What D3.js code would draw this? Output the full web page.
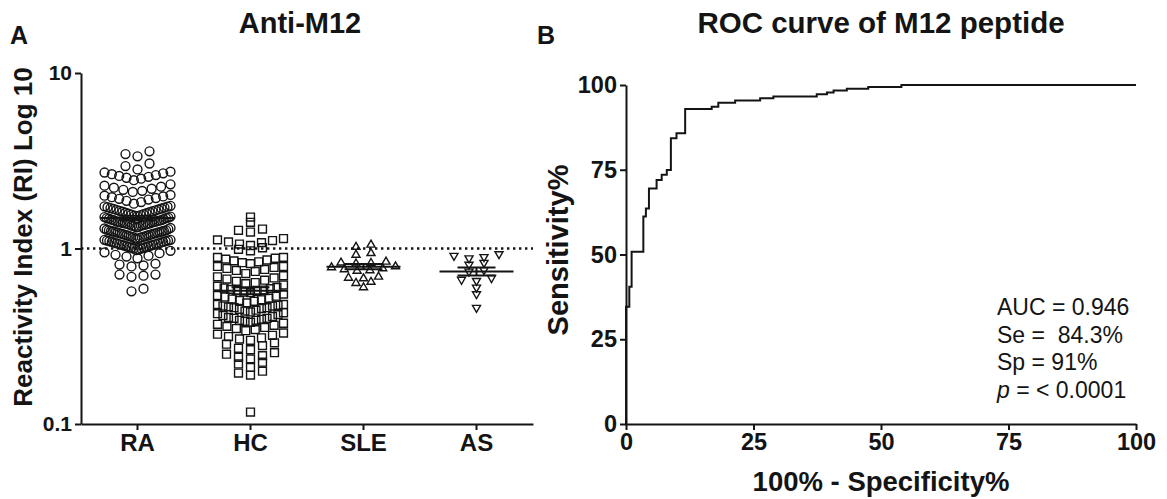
<!DOCTYPE html>
<html>
<head>
<meta charset="utf-8">
<script src="https://cdn.jsdelivr.net/npm/d3@7"></script>
<style>
  body { margin: 0; background: #fff; }
  svg { display: block; font-family: "Liberation Sans", Arial, Helvetica, sans-serif; }
  .stat { white-space: pre; }
</style>
</head>
<body>
<svg id="chart" width="1167" height="499"></svg>
<script>
// ---------- Panel A: anti-M12 reactivity index per group ----------
const groups = ["RA", "HC", "SLE", "AS"];

const raValues = [
  0.57, 0.59,
  0.69, 0.70, 0.71, 0.71,
  0.79, 0.80, 0.81, 0.82,
  0.88, 0.90, 0.91, 0.92, 0.94, 0.95,
  0.97, 0.98, 0.99, 1.00, 1.00, 1.01, 1.01, 1.02, 1.02, 1.03, 1.03, 1.04, 1.04, 1.05, 1.05,
  1.06, 1.06, 1.07, 1.07, 1.08, 1.08, 1.09, 1.09, 1.10, 1.10, 1.11, 1.11, 1.12, 1.12,
  1.13, 1.14, 1.15, 1.16, 1.16, 1.17, 1.17, 1.18, 1.18, 1.19, 1.19, 1.20, 1.20, 1.21, 1.21,
  1.22, 1.22, 1.23, 1.23, 1.24, 1.24, 1.25, 1.25, 1.26, 1.26, 1.27, 1.27, 1.28, 1.29, 1.30,
  1.31, 1.32, 1.33, 1.34, 1.35, 1.35, 1.36, 1.37, 1.37, 1.38, 1.38, 1.39, 1.39, 1.40, 1.41,
  1.41, 1.42, 1.42, 1.43, 1.43, 1.44, 1.45, 1.45, 1.46, 1.47, 1.48, 1.49, 1.49, 1.50, 1.51,
  1.52, 1.53, 1.54, 1.55, 1.56, 1.57, 1.58, 1.59, 1.60, 1.61, 1.62, 1.63, 1.64, 1.65,
  1.66, 1.67, 1.68, 1.69, 1.70, 1.71, 1.72, 1.73, 1.74, 1.75,
  1.80, 1.84, 1.87, 1.90, 1.92, 1.94, 1.96, 1.98, 2.00, 2.02,
  2.10, 2.13, 2.16, 2.19, 2.22, 2.25, 2.28, 2.32,
  2.45, 2.50, 2.53, 2.56, 2.59, 2.62, 2.65, 2.68, 2.71, 2.74,
  2.82, 2.95, 3.05,
  3.35, 3.45, 3.58
];

const hcValues = [
  1.51, 1.41,
  1.24, 1.27, 1.29,
  1.04, 1.06, 1.08, 1.09, 1.11, 1.12, 1.14,
  0.97, 0.99, 1.01,
  0.82, 0.83, 0.84, 0.85, 0.86, 0.87, 0.88, 0.89, 0.89,
  0.72, 0.74, 0.75, 0.76, 0.77, 0.78, 0.79, 0.79,
  0.63, 0.64, 0.65, 0.66, 0.67, 0.68, 0.69, 0.70,
  0.55, 0.56, 0.565, 0.57, 0.575, 0.58, 0.585, 0.59, 0.595, 0.60, 0.61, 0.62,
  0.49, 0.50, 0.505, 0.51, 0.515, 0.52, 0.53, 0.535, 0.54,
  0.43, 0.435, 0.44, 0.445, 0.45, 0.455, 0.46, 0.46, 0.465, 0.47, 0.47, 0.475, 0.48, 0.48,
  0.38, 0.385, 0.39, 0.39, 0.395, 0.40, 0.40, 0.405, 0.41, 0.415, 0.42, 0.425,
  0.34, 0.345, 0.35, 0.355, 0.36, 0.365, 0.37, 0.375,
  0.30, 0.305, 0.31, 0.315, 0.32, 0.325, 0.33,
  0.265, 0.27, 0.28, 0.285, 0.29,
  0.235, 0.24, 0.245, 0.25, 0.255,
  0.21, 0.22, 0.225,
  0.19, 0.195, 0.20,
  0.117
];

const sleValues = [
  1.02, 1.05,
  0.92, 0.94,
  0.82, 0.825, 0.83, 0.84,
  0.745, 0.75, 0.76, 0.77, 0.78, 0.79,
  0.675, 0.68, 0.69,
  0.635, 0.645,
  0.60
];

const asValues = [
  0.88, 0.895, 0.91, 0.93,
  0.81, 0.83,
  0.74, 0.755,
  0.655, 0.665, 0.68,
  0.60,
  0.55,
  0.46
];

const logTicks = [0.1, 1, 10];
const cutoffRI = 1;

// ---------- Panel B: ROC curve of the M12 peptide ----------
const rocFpr  = [0, 0, 0.65, 1.1, 3.4, 3.9, 4.5, 6.0, 7.0, 8.0, 8.8, 9.9, 11.6, 16.8, 18.1, 21.4, 26.3, 28.9, 37.4, 39.4, 40.7, 43.3, 47.5, 54.0, 100];
const rocSens = [0, 34.6, 40.5, 50.8, 61.2, 63.6, 69.5, 72.0, 73.5, 74.9, 84.3, 85.8, 92.9, 93.6, 94.8, 95.4, 96.1, 96.6, 97.3, 97.8, 98.4, 98.9, 99.4, 100, 100];
const rocTicks = [0, 25, 50, 75, 100];
const rocStats = ["AUC = 0.946", "Se =  84.3%", "Sp = 91%"];
const rocP = "= < 0.0001";

// ---------- drawing ----------
const ink = "#141414";
const svg = d3.select("#chart");

function styleAxis(g, fontSize) {
  g.select(".domain").attr("stroke", ink).attr("stroke-width", 2);
  g.selectAll(".tick line").attr("stroke", ink).attr("stroke-width", 2);
  g.selectAll(".tick text")
    .attr("fill", ink)
    .attr("font-size", fontSize)
    .attr("font-weight", "bold")
    .attr("font-family", "'Liberation Sans', Arial, sans-serif");
}

// Panel A scales
const A = { left: 81, right: 533, top: 73, bottom: 424 };
const xA = d3.scaleBand().domain(groups).range([A.left, A.right]);
const yA = d3.scaleLog().domain([0.1, 10]).range([A.bottom, A.top]);

// cut-off line
svg.append("line")
  .attr("x1", A.left).attr("x2", A.right)
  .attr("y1", yA(cutoffRI)).attr("y2", yA(cutoffRI))
  .attr("stroke", ink).attr("stroke-width", 2.4)
  .attr("stroke-dasharray", "2.4,3.6");

// column scatter layout: values binned into rows, rows spread from the centre out
function columnScatter(values, cx, binH, anchor, maxW, maxGap) {
  const pts = values.map(v => ({ v, py: yA(v) }));
  const rows = d3.group(pts, p => Math.round((p.py - anchor) / binH));
  const out = [];
  for (const row of rows.values()) {
    row.sort((a, b) => a.v - b.v);
    const n = row.length;
    const gap = n > 1 ? Math.min(maxGap, maxW / (n - 1)) : 0;
    const slots = d3.range(n)
      .map(i => (i - (n - 1) / 2) * gap)
      .sort((a, b) => Math.abs(a) - Math.abs(b) || a - b);
    row.forEach((p, i) => out.push({ v: p.v, px: cx + slots[i], py: p.py }));
  }
  return out;
}

const groupSpecs = [
  { name: "RA",  values: raValues,  symbol: d3.symbolCircle,   size: 62, rot: 0,   binH: 11.5, anchor: 245, maxW: 66, maxGap: 12 },
  { name: "HC",  values: hcValues,  symbol: d3.symbolSquare,   size: 62, rot: 0,   binH: 9.5,  anchor: 289, maxW: 66, maxGap: 12 },
  { name: "SLE", values: sleValues, symbol: d3.symbolTriangle, size: 28, rot: 0,   binH: 7.5,  anchor: 245, maxW: 64, maxGap: 15 },
  { name: "AS",  values: asValues,  symbol: d3.symbolTriangle, size: 28, rot: 180, binH: 7.5,  anchor: 255, maxW: 58, maxGap: 15 }
];

groupSpecs.forEach(spec => {
  const cx = xA(spec.name) + xA.bandwidth() / 2;
  const pts = columnScatter(spec.values, cx, spec.binH, spec.anchor, spec.maxW, spec.maxGap);
  const sym = d3.symbol().type(spec.symbol).size(spec.size);
  svg.append("g").selectAll("path").data(pts).join("path")
    .attr("d", sym)
    .attr("transform", d => `translate(${d.px},${d.py}) rotate(${spec.rot})`)
    .attr("fill", "none")
    .attr("stroke", ink)
    .attr("stroke-width", 1.4);

  // mean with SEM
  const m = d3.mean(spec.values);
  const sem = d3.deviation(spec.values) / Math.sqrt(spec.values.length);
  const g = svg.append("g").attr("stroke", ink).attr("stroke-width", 2);
  g.append("line").attr("x1", cx - 37).attr("x2", cx + 37).attr("y1", yA(m)).attr("y2", yA(m));
  [m - sem, m + sem].forEach(v => {
    g.append("line").attr("x1", cx - 19).attr("x2", cx + 19).attr("y1", yA(v)).attr("y2", yA(v));
  });
  g.append("line").attr("x1", cx).attr("x2", cx).attr("y1", yA(m - sem)).attr("y2", yA(m + sem));
});

// Panel A axes
svg.append("g")
  .attr("transform", `translate(${A.left},0)`)
  .call(d3.axisLeft(yA).tickValues(logTicks).tickFormat(d3.format("~g")).tickSize(6).tickSizeOuter(0).tickPadding(3))
  .call(g => styleAxis(g, 21));

svg.append("g")
  .attr("transform", `translate(0,${A.bottom})`)
  .call(d3.axisBottom(xA).tickSize(6).tickSizeOuter(0).tickPadding(4))
  .call(g => styleAxis(g, 24));

// Panel A texts
svg.append("text").attr("x", 10).attr("y", 44).text("A")
  .attr("font-size", 25).attr("font-weight", "bold").attr("fill", ink);
svg.append("text").attr("x", 300).attr("y", 33).text("Anti-M12")
  .attr("text-anchor", "middle").attr("font-size", 29).attr("font-weight", "bold").attr("fill", ink);
svg.append("text")
  .attr("transform", `translate(32,237) rotate(-90)`)
  .attr("text-anchor", "middle").attr("font-size", 26).attr("font-weight", "bold").attr("fill", ink)
  .text("Reactivity Index (RI) Log 10");

// Panel B scales
const B = { left: 626, right: 1136, top: 85, bottom: 424 };
const xB = d3.scaleLinear().domain([0, 100]).range([B.left, B.right]);
const yB = d3.scaleLinear().domain([0, 100]).range([B.bottom, B.top]);

const rocPts = rocFpr.map((f, i) => [f, rocSens[i]]);
svg.append("path")
  .datum(rocPts)
  .attr("d", d3.line().x(d => xB(d[0])).y(d => yB(d[1])).curve(d3.curveStepAfter))
  .attr("fill", "none").attr("stroke", ink).attr("stroke-width", 2);

svg.append("g")
  .attr("transform", `translate(${B.left},0)`)
  .call(d3.axisLeft(yB).tickValues(rocTicks).tickSize(6).tickSizeOuter(0).tickPadding(3))
  .call(g => styleAxis(g, 23.5));

svg.append("g")
  .attr("transform", `translate(0,${B.bottom})`)
  .call(d3.axisBottom(xB).tickValues(rocTicks).tickSize(6).tickSizeOuter(0).tickPadding(3))
  .call(g => styleAxis(g, 23.5));

// Panel B texts
svg.append("text").attr("x", 537).attr("y", 44).text("B")
  .attr("font-size", 25).attr("font-weight", "bold").attr("fill", ink);
svg.append("text").attr("x", (B.left + B.right) / 2).attr("y", 33).text("ROC curve of M12 peptide")
  .attr("text-anchor", "middle").attr("font-size", 29.5).attr("font-weight", "bold").attr("fill", ink);
svg.append("text").attr("x", (B.left + B.right) / 2).attr("y", 491).text("100% - Specificity%")
  .attr("text-anchor", "middle").attr("font-size", 27.5).attr("font-weight", "bold").attr("fill", ink);
svg.append("text")
  .attr("transform", `translate(568,250) rotate(-90)`)
  .attr("text-anchor", "middle").attr("font-size", 29).attr("font-weight", "bold").attr("fill", ink)
  .text("Sensitivity%");

const statG = svg.append("g").attr("font-size", 23).attr("fill", ink);
rocStats.forEach((s, i) => {
  statG.append("text").attr("class", "stat").attr("x", 997).attr("y", 315 + i * 27.7).text(s);
});
const pLine = statG.append("text").attr("class", "stat").attr("x", 997).attr("y", 315 + 3 * 27.7);
pLine.append("tspan").attr("font-style", "italic").text("p");
pLine.append("tspan").text(" " + rocP);
</script>
</body>
</html>
